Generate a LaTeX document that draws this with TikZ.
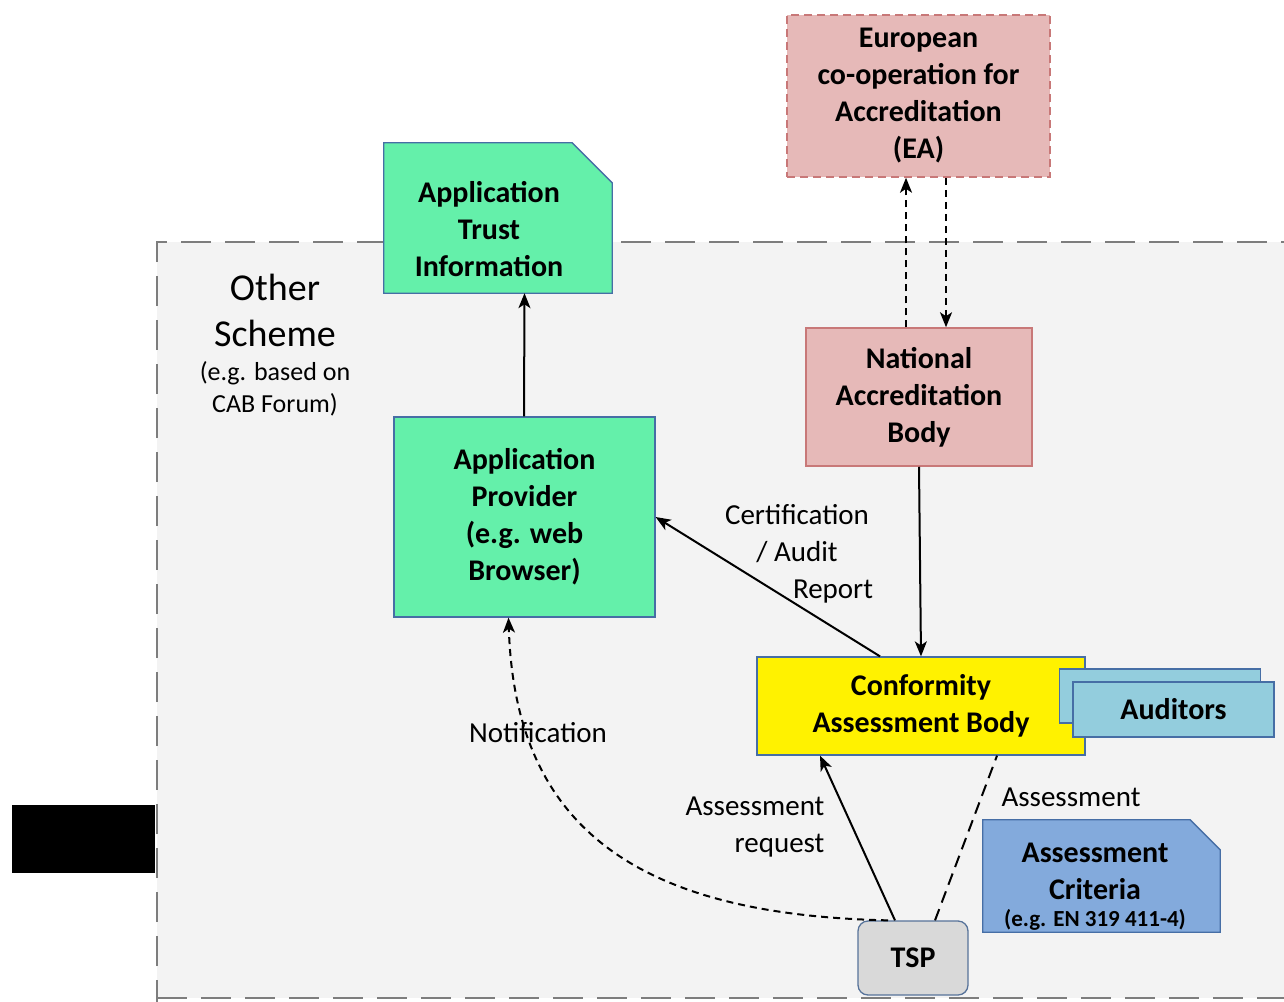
\documentclass[tikz,border=0pt]{standalone}
\usepackage{fontspec}
\setmainfont{Carlito}
\usetikzlibrary{arrows.meta}
\definecolor{bggrey}{RGB}{243,243,243}
\definecolor{outerdash}{RGB}{125,125,125}
\definecolor{mint}{RGB}{100,240,170}
\definecolor{pinkfill}{RGB}{230,185,184}
\definecolor{pinkline}{RGB}{200,120,120}
\definecolor{boxline}{RGB}{70,110,165}
\definecolor{audblue}{RGB}{147,205,221}
\definecolor{critblue}{RGB}{131,170,220}
\definecolor{tspgrey}{RGB}{217,217,217}
\begin{document}
\begin{tikzpicture}[x=1pt,y=-1pt,
  boxtext/.style={font=\bfseries\fontsize{30}{37}\selectfont, align=center, inner sep=0pt},
  boxshape/.style={draw=boxline, line width=1.3pt, inner sep=0pt},
  lbl/.style={font=\fontsize{29}{37}\selectfont, inner sep=0pt},
  conn/.style={line width=2pt, -{Stealth[length=15pt,width=12pt,inset=4pt]}},
  dconn/.style={line width=2pt, dash pattern=on 7pt off 5pt, -{Stealth[length=15pt,width=12pt,inset=4pt]}}
]
\clip (0,0) rectangle (1284,1001);
\fill[white] (0,0) rectangle (1284,1001);
% outer scheme region
\fill[bggrey] (157,242) rectangle (1300,998);
\draw[outerdash, line width=2.5pt, dash pattern=on 30pt off 14pt] (157,1010) -- (157,242) -- (1300,242);
\draw[outerdash, line width=2.5pt, dash pattern=on 30pt off 14pt] (157,998) -- (1300,998);
% black box
\fill[black] (12,805) rectangle (155,873);
% Other scheme label
\node[font=\fontsize{38}{46}\selectfont, align=center, inner sep=0pt] (other) at (275,310) {Other\\Scheme};
\node[font=\fontsize{26}{32}\selectfont, align=center, inner sep=0pt] (othereg) at (275,389) {(e.g. based on\\CAB Forum)};

% EA
\node[draw=pinkline, fill=pinkfill, line width=1.5pt, dash pattern=on 8pt off 5pt,
      minimum width=263pt, minimum height=162pt, boxtext] (ea) at (918.5,96)
      {European\\co-operation for\\Accreditation\\(EA)};

% Application Trust Information (document shape)
\node[minimum width=228pt, minimum height=150pt, inner sep=0pt] (ati) at (498,218) {};
\filldraw[fill=mint, draw=boxline, line width=1.3pt]
  (ati.south west) -- (ati.north west) -- ([xshift=-40pt]ati.north east)
  -- ([yshift=-40pt]ati.north east) -- (ati.south east) -- cycle;
\node[boxtext] (atitext) at (489,229) {Application\\Trust\\Information};

% Application Provider
\node[boxshape, fill=mint, minimum width=261pt, minimum height=200pt, boxtext] (ap) at (524.5,517)
  {Application\\Provider\\(e.g. web\\Browser)};

% National Accreditation Body
\node[draw=pinkline, fill=pinkfill, line width=1.5pt, minimum width=226pt, minimum height=138pt, boxtext] (nab) at (919,397)
  {National\\Accreditation\\Body};

% Conformity Assessment Body
\node[boxshape, fill=yellow, minimum width=328pt, minimum height=98pt, boxtext] (cab) at (921,706)
  {Conformity\\Assessment Body};

% Auditors (stack)
\node[boxshape, fill=audblue, minimum width=201pt, minimum height=54pt] (audback) at (1160,696) {};
\node[boxshape, fill=audblue, minimum width=201pt, minimum height=55pt, boxtext] (aud) at (1173.5,709.5) {Auditors};

% Assessment Criteria (document shape)
\node[minimum width=237pt, minimum height=112pt, inner sep=0pt] (ac) at (1101.5,876) {};
\filldraw[fill=critblue, draw=boxline, line width=1.3pt]
  (ac.south west) -- (ac.north west) -- ([xshift=-30pt]ac.north east)
  -- ([yshift=-30pt]ac.north east) -- (ac.south east) -- cycle;
\node[boxtext] (actext) at (1095,871) {Assessment\\Criteria};
\node[font=\bfseries\fontsize{23}{28}\selectfont, inner sep=0pt] (aceg) at (1095,920) {(e.g. EN 319 411-4)};

% TSP
\node[draw=boxline!70!gray, fill=tspgrey, line width=1.3pt, rounded corners=10pt,
      minimum width=110pt, minimum height=74pt, boxtext] (tsp) at (913,958) {TSP};

% connectors
\draw[conn] (ap.north -| 524,0) -- (ap.north |- ati.south);
\draw[dconn] ([xshift=-13pt]nab.north) -- ([xshift=-13pt]nab.north |- ea.south);
\draw[dconn] ([xshift=27pt]nab.north |- ea.south) -- ([xshift=27pt]nab.north);
\draw[conn] (nab.south) -- (cab.north);
\draw[conn] ([xshift=-41pt]cab.north) -- (ap.east);
\draw[conn] ([xshift=-18pt]tsp.north) -- ([xshift=-101pt]cab.south);
\draw[line width=2pt, dash pattern=on 12pt off 7pt] ([xshift=22pt]tsp.north) -- ([xshift=76pt]cab.south);
\draw[dconn] ([xshift=-25pt]tsp.north) .. controls (640,915) and (515,830) .. ([xshift=-16pt]ap.south);

% labels
\node[lbl, align=center] (certlbl) at (797,554) {Certification\\/ Audit\\\hspace*{72pt}Report};
\node[lbl, align=right] (reqlbl) at (755,827) {Assessment\\request};
\node[lbl] (notiflbl) at (538,733) {Notification};
\node[lbl] (asslbl) at (1071,797) {Assessment};
\end{tikzpicture}
\end{document}
